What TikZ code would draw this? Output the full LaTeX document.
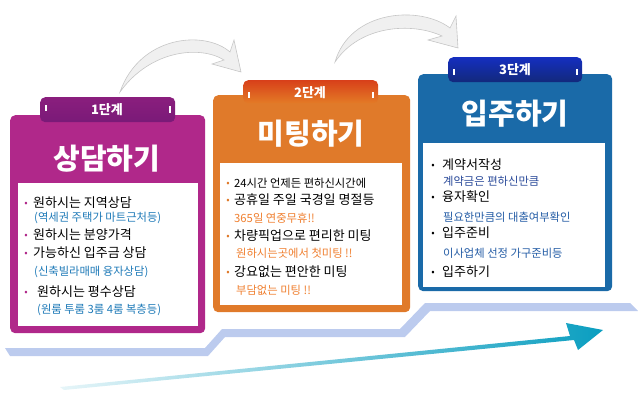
\documentclass[tikz,border=0pt]{standalone}
\usepackage{fontspec}
\setmainfont{Noto Sans CJK KR}
\usetikzlibrary{arrows.meta,shadings}
\definecolor{pur}{HTML}{B0288A}
\definecolor{purD}{HTML}{7A1A78}
\definecolor{ora}{HTML}{E07A2A}
\definecolor{oraD}{HTML}{D8401A}
\definecolor{blu}{HTML}{1A6AA8}
\definecolor{bluD}{HTML}{1A3AB0}
\definecolor{sub1}{HTML}{1E7AB8}
\definecolor{sub2}{HTML}{F08030}
\definecolor{sub3}{HTML}{2A4A9A}
\definecolor{band}{HTML}{BCCBEE}
\definecolor{teal}{HTML}{0A9EC0}
\tikzset{
  item/.style={anchor=west,inner sep=0pt,font=\fontsize{13}{14}\selectfont,text=black},
  subi/.style={anchor=west,inner sep=0pt,font=\fontsize{11.3}{12}\selectfont},
  ttl/.style={text=white,font=\fontsize{29}{31}\selectfont\bfseries,inner sep=0pt},
  tabt/.style={text=white,font=\fontsize{13}{15}\selectfont\bfseries,inner sep=0pt},
  bul/.style={anchor=center,inner sep=0pt,font=\fontsize{10}{10}\selectfont},
  carrow/.style={draw=gray!45,fill=gray!12,line width=0.6pt}
}
\begin{document}
\begin{tikzpicture}[x=1pt,y=-1pt]
\useasboundingbox (0,0) rectangle (638,402);
% bottom band
\fill[band] (5,348) -- (205,348) -- (222,329) -- (400,329) -- (425,303) -- (630,303) -- (638,311) -- (430,311) -- (405,337) -- (225,337) -- (208,356) -- (10,356) -- cycle;
% rising arrow
\shade[left color=teal!10,right color=teal] (60,387) -- (570,336) -- (566,323) -- (603,330) -- (578,350) -- (574,340) -- (64,390) -- cycle;
% curved arrows
\path[carrow] (120,92) .. controls (140,35) and (205,30) .. (230,52) -- (234,40) -- (241,72) -- (212,64) -- (224,60) .. controls (200,45) and (150,50) .. (120,92) -- cycle;
\path[carrow] (335,62) .. controls (350,10) and (420,5) .. (450,28) -- (456,16) -- (458,48) -- (428,40) -- (442,36) .. controls (412,22) and (360,25) .. (335,62) -- cycle;
% box 1
\node[fill=pur,rounded corners=5pt,minimum width=195pt,minimum height=218pt,anchor=north west] (b1) at (10,115) {};
\node[fill=white,minimum width=180pt,minimum height=143pt,anchor=north west,inner sep=0pt] (w1) at (18,183) {};
\node[top color=purD!70!pur,bottom color=purD,rounded corners=5pt,minimum width=135pt,minimum height=25pt,anchor=north west] (t1) at (40,97) {};
\node[tabt] at (107,110) {1단계};
\draw[white,line width=1.2pt] (46,105)--(46,111) (170,106)--(170,113);
\node[ttl] (h1) at (107,159) {상담하기};
\node[bul,text=pur] at (26,204) {•};
\node[item] at (33,203) {원하시는 지역상담};
\node[subi,text=sub1] at (34,218) {(역세권 주택가 마트근처등)};
\node[bul,text=pur] at (26,236) {•};
\node[item] at (33,235) {원하시는 분양가격};
\node[bul,text=pur] at (26,254) {•};
\node[item] at (33,253) {가능하신 입주금 상담};
\node[subi,text=sub1] at (34,272) {(신축빌라매매 융자상담)};
\node[bul,text=pur] at (26,293) {•};
\node[item] at (37,292) {원하시는 평수상담};
\node[subi,text=sub1] at (37,310) {(원룸 투룸 3룸 4룸 복층등)};
% box 2
\node[fill=ora,rounded corners=5pt,minimum width=197pt,minimum height=217pt,anchor=north west] (b2) at (213,95) {};
\node[fill=white,minimum width=182pt,minimum height=142pt,anchor=north west,inner sep=0pt] (w2) at (220,163) {};
\node[top color=oraD,bottom color=ora!90!orange,rounded corners=5pt,minimum width=135pt,minimum height=23pt,anchor=north west] (t2) at (243,80) {};
\node[tabt] at (310,93) {2단계};
\draw[white,line width=1.2pt] (249,92)--(249,98) (373,92)--(373,98);
\node[ttl] (h2) at (311,134) {미팅하기};
\node[bul,text=ora] at (228,184) {•};
\node[item,font=\fontsize{11.3}{12}\selectfont] at (234,183) {24시간 언제든 편하신시간에};
\node[bul,text=ora] at (228,201) {•};
\node[item] at (234,200) {공휴일 주일 국경일 명절등};
\node[subi,text=sub2] at (234,218) {365일 연중무휴!!};
\node[bul,text=ora] at (228,237) {•};
\node[item] at (234,236) {차량픽업으로 편리한 미팅};
\node[subi,text=sub2] at (236,253) {원하시는곳에서 첫미팅 !!};
\node[bul,text=ora] at (228,273) {•};
\node[item] at (234,272) {강요없는 편안한 미팅};
\node[subi,text=sub2] at (236,290) {부담없는 미팅 !!};
% box 3
\node[fill=blu,rounded corners=5pt,minimum width=194pt,minimum height=217pt,anchor=north west] (b3) at (418,74) {};
\node[fill=white,minimum width=182pt,minimum height=144pt,anchor=north west,inner sep=0pt] (w3) at (423,143) {};
\node[top color=bluD!80!blue,bottom color=bluD!70!black,rounded corners=5pt,minimum width=134pt,minimum height=25pt,anchor=north west] (t3) at (448,57) {};
\node[tabt] at (515,70) {3단계};
\draw[white,line width=1.2pt] (454,69)--(454,75) (577,69)--(577,75);
\node[ttl] (h3) at (515,114) {입주하기};
\node[bul,text=black] at (433,166) {•};
\node[item] at (442,165) {계약서작성};
\node[subi,text=sub3] at (443,181) {계약금은 편하신만큼};
\node[bul,text=black] at (433,198) {•};
\node[item] at (442,197) {융자확인};
\node[subi,text=sub3!60!sub1] at (443,217) {필요한만큼의 대출여부확인};
\node[bul,text=black] at (433,234) {•};
\node[item] at (442,233) {입주준비};
\node[subi,text=sub3!60!sub1] at (443,253) {이사업체 선정 가구준비등};
\node[bul,text=black] at (433,273) {•};
\node[item] at (442,272) {입주하기};
\end{tikzpicture}
\end{document}
